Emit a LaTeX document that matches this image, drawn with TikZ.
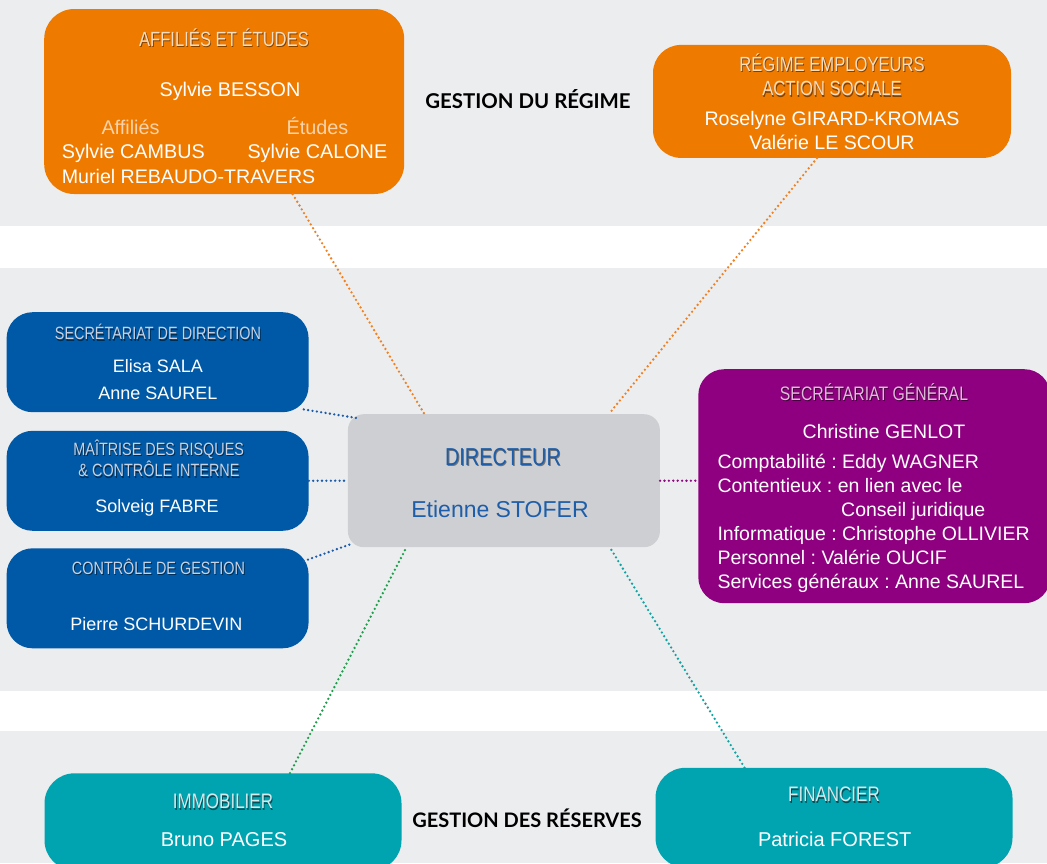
\documentclass[tikz,border=0pt]{standalone}
\usepackage{fontspec}
\setmainfont{Liberation Sans}
\newfontfamily\cond{Liberation Sans}[FakeStretch=0.81]
\newfontfamily\gestfont{Lato}
\usetikzlibrary{calc}
\frenchspacing
\definecolor{bandgray}{HTML}{ECEDEF}
\definecolor{cOrange}{HTML}{EE7A00}
\definecolor{cBlue}{HTML}{0059A6}
\definecolor{cPurple}{HTML}{8E007F}
\definecolor{cTeal}{HTML}{00A4B1}
\definecolor{cDir}{HTML}{CECFD2}
\definecolor{cDirText}{HTML}{1D5DA9}
\definecolor{hOrange}{HTML}{F7DDC2}
\definecolor{hBlue}{HTML}{C8D2E2}
\definecolor{hPurple}{HTML}{DCBCD8}
\definecolor{hTeal}{HTML}{D6E8EA}
\definecolor{lOrange}{HTML}{FAD3AA}
\definecolor{dOrange}{HTML}{F08020}
\definecolor{dBlue}{HTML}{1D5CA8}
\definecolor{dPurple}{HTML}{8E0A80}
\definecolor{dGreen}{HTML}{1E9E4A}
\definecolor{dTeal}{HTML}{12A2A2}
\newcommand\shd[2]{\leavevmode\rlap{\kern0.9pt\raisebox{-1.8pt}{\textcolor{#1}{#2}}}#2}
\tikzset{
  box/.style={draw=none, rounded corners=#1, inner sep=0pt},
  txt/.style={inner sep=0pt, text=white},
  hdr/.style={inner sep=0pt, font=\cond\fontsize{#1}{#1}\selectfont},
  conn/.style={line width=2.6pt, line cap=round, dash pattern=on 0pt off 4.4pt},
}
\begin{document}
\begin{tikzpicture}[x=1pt, y=-1pt]
\useasboundingbox (0,0) rectangle (1047,863);
\clip (0,0) rectangle (1047,863);
% bands
\fill[white] (0,0) rectangle (1047,863);
\fill[bandgray] (0,0) rectangle (1047,226);
\fill[bandgray] (0,268) rectangle (1047,691);
\fill[bandgray] (0,731) rectangle (1047,863);

% boxes
\node[box=30pt, fill=cOrange, minimum width=360pt, minimum height=185pt] (aff) at (224.2,101.5) {};
\node[box=28pt, fill=cOrange, minimum width=358pt, minimum height=113pt] (reg) at (832,101.4) {};
\node[box=26pt, fill=cBlue, minimum width=302pt, minimum height=100pt] (sd) at (157.6,362.2) {};
\node[box=26pt, fill=cBlue, minimum width=302pt, minimum height=100pt] (mr) at (157.6,480.8) {};
\node[box=26pt, fill=cBlue, minimum width=302pt, minimum height=100pt] (cg) at (157.6,598.3) {};
\node[box=16pt, fill=cDir, minimum width=312pt, minimum height=133pt] (dir) at (503.9,480.7) {};
\node[box=26pt, fill=cPurple, minimum width=352pt, minimum height=234pt] (sg) at (874.3,486.2) {};
\node[box=30pt, fill=cTeal, minimum width=357pt, minimum height=97pt] (imm) at (223,821.8) {};
\node[box=30pt, fill=cTeal, minimum width=357pt, minimum height=100pt] (fin) at (834,817.8) {};

% connectors
\draw[conn, dOrange] ([xshift=68.5pt]aff.south) -- ([xshift=-79.5pt]dir.north);
\draw[conn, dOrange] ([xshift=-15pt]reg.south) -- ([xshift=105pt]dir.north);
\draw[conn, dBlue] ([shift={(-5pt,3pt)}]sd.south east) -- ([shift={(9pt,-4pt)}]dir.north west);
\draw[conn, dBlue] (mr.east) -- (dir.west);
\draw[conn, dBlue] ([shift={(-5pt,-13pt)}]cg.north east) -- ([shift={(5pt,4pt)}]dir.south west);
\draw[conn, dPurple] (dir.east) -- (dir.east -| sg.west);
\draw[conn, dGreen] ([xshift=67pt]imm.north) -- ([xshift=-97.5pt]dir.south);
\draw[conn, dTeal] ([xshift=-89.5pt]fin.north) -- ([xshift=106pt]dir.south);

% section labels
\node[inner sep=0pt, anchor=base, font=\gestfont\bfseries\fontsize{20.4}{20}\selectfont] (gr) at (528,108.3) {GESTION DU RÉGIME};
\node[inner sep=0pt, anchor=base, font=\gestfont\bfseries\fontsize{20}{20}\selectfont] (gres) at (527,827.7) {GESTION DES RÉSERVES};

% Affiliés et études
\node[hdr=20.5, text=hOrange, anchor=base] (affh) at (224,46) {\shd{cOrange!55!black}{AFFILIÉS ET ÉTUDES}};
\node[txt, anchor=base, font=\fontsize{19.8}{20}\selectfont] (aff1) at (230,96.5) {Sylvie BESSON};
\node[txt, anchor=base, text=lOrange, font=\fontsize{19.8}{20}\selectfont] (aff2) at (130.5,134) {Affiliés};
\node[txt, anchor=base, text=lOrange, font=\fontsize{19.8}{20}\selectfont] (aff3) at (317.5,134) {Études};
\node[txt, anchor=base west, font=\fontsize{19.8}{20}\selectfont] (aff4) at (61.7,158) {Sylvie CAMBUS};
\node[txt, anchor=base west, font=\fontsize{19.8}{20}\selectfont] (aff5) at (247.3,158) {Sylvie CALONE};
\node[txt, anchor=base west, font=\fontsize{19.6}{20}\selectfont] (aff6) at (61.7,183) {Muriel REBAUDO-TRAVERS};

% Régime employeurs
\node[hdr=20.5, text=hOrange, anchor=base] (regh1) at (832,71) {\shd{cOrange!55!black}{RÉGIME EMPLOYEURS}};
\node[hdr=20.5, text=hOrange, anchor=base] (regh2) at (832,95.6) {\shd{cOrange!55!black}{ACTION SOCIALE}};
\node[txt, anchor=base, font=\fontsize{19.6}{20}\selectfont] (reg1) at (832,125) {Roselyne GIRARD-KROMAS};
\node[txt, anchor=base, font=\fontsize{19.6}{20}\selectfont] (reg2) at (832,149) {Valérie LE SCOUR};

% Secrétariat de direction
\node[hdr=17.8, text=hBlue, anchor=base] (sdh) at (158,339.3) {\shd{cBlue!50!black}{SECRÉTARIAT DE DIRECTION}};
\node[txt, anchor=base, font=\fontsize{18}{18}\selectfont] (sd1) at (158,372) {Elisa SALA};
\node[txt, anchor=base, font=\fontsize{18}{18}\selectfont] (sd2) at (158,399) {Anne SAUREL};

% Maîtrise des risques
\node[hdr=17.8, text=hBlue, anchor=base] (mrh1) at (158.7,455) {\shd{cBlue!50!black}{MAÎTRISE DES RISQUES}};
\node[hdr=17.8, text=hBlue, anchor=base] (mrh2) at (159,476.7) {\shd{cBlue!50!black}{\& CONTRÔLE INTERNE}};
\node[txt, anchor=base, font=\fontsize{18}{18}\selectfont] (mr1) at (157,512.7) {Solveig FABRE};

% Contrôle de gestion
\node[hdr=17.8, text=hBlue, anchor=base] (cgh) at (158.5,574) {\shd{cBlue!50!black}{CONTRÔLE DE GESTION}};
\node[txt, anchor=base, font=\fontsize{18}{18}\selectfont] (cg1) at (156.5,630) {Pierre SCHURDEVIN};

% Directeur
\node[hdr=24.5, text=cDirText, anchor=base] (dirh) at (503,465) {\shd{cDir!55!black}{DIRECTEUR}};
\node[inner sep=0pt, text=cDirText, anchor=base, font=\fontsize{23}{23}\selectfont] (dir1) at (500,517) {Etienne STOFER};

% Secrétariat général
\node[hdr=19.5, text=hPurple, anchor=base] (sgh) at (874,400) {\shd{cPurple!50!black}{SECRÉTARIAT GÉNÉRAL}};
\node[txt, anchor=base, font=\fontsize{19.5}{20}\selectfont] (sg0) at (884,438.3) {Christine GENLOT};
\node[txt, anchor=base west, font=\fontsize{19.5}{20}\selectfont] (sg1) at (717.3,468.3) {Comptabilité : Eddy WAGNER};
\node[txt, anchor=base west, font=\fontsize{19.5}{20}\selectfont] (sg2) at (717.3,492.3) {Contentieux : en lien avec le};
\node[txt, anchor=base west, font=\fontsize{19.5}{20}\selectfont] (sg3) at (841,516.7) {Conseil juridique};
\node[txt, anchor=base west, font=\fontsize{19.5}{20}\selectfont] (sg4) at (717.3,540.7) {Informatique : Christophe OLLIVIER};
\node[txt, anchor=base west, font=\fontsize{19.5}{20}\selectfont] (sg5) at (717.3,564.7) {Personnel : Valérie OUCIF};
\node[txt, anchor=base west, font=\fontsize{19.5}{20}\selectfont] (sg6) at (717.3,588.7) {Services généraux : Anne SAUREL};

% Immobilier
\node[hdr=21, text=hTeal, anchor=base] (immh) at (223,808.3) {\shd{cTeal!50!black}{IMMOBILIER}};
\node[txt, anchor=base, font=\fontsize{20}{20}\selectfont] (imm1) at (224,846) {Bruno PAGES};

% Financier
\node[hdr=21, text=hTeal, anchor=base] (finh) at (834,801.7) {\shd{cTeal!50!black}{FINANCIER}};
\node[txt, anchor=base, font=\fontsize{20}{20}\selectfont] (fin1) at (834.7,846) {Patricia FOREST};
\end{tikzpicture}
\end{document}
